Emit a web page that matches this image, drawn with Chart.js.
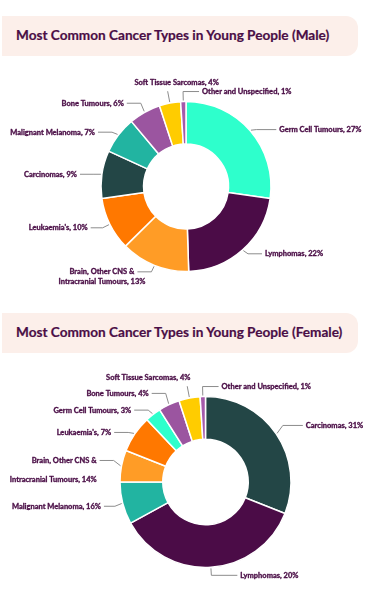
<!DOCTYPE html>
<html>
<head>
<meta charset="utf-8">
<script src="https://cdn.jsdelivr.net/npm/chart.js@4/dist/chart.umd.min.js"></script>
<style>
  html, body { margin: 0; padding: 0; background: #ffffff; }
  body { width: 376px; height: 595px; position: relative; overflow: hidden; font-family: Lato, "Open Sans", sans-serif; }
  .title {
    position: absolute; left: 2px; width: 356px; height: 40px;
    background: #fcefea; border-radius: 0 12px 12px 0;
    box-sizing: border-box; padding-left: 14px;
    font-weight: 700; font-size: 13.6px; color: #4a0e46;
    line-height: 38px; white-space: nowrap;
    -webkit-text-stroke: 0.2px #4a0e46;
  }
  canvas { position: absolute; left: 0; }
</style>
</head>
<body>
<div class="title" style="top:16px;">Most Common Cancer Types in Young People (Male)</div>
<canvas id="male" width="376" height="240" style="top:60px;width:376px;height:240px;"></canvas>
<div class="title" style="top:313px;">Most Common Cancer Types in Young People (Female)</div>
<canvas id="female" width="376" height="240" style="top:355px;width:376px;height:240px;"></canvas>
<script>
// ---- Data ----
const maleLabels = [
  'Germ Cell Tumours, 27%', 'Lymphomas, 22%', ['Brain, Other CNS &', 'Intracranial Tumours, 13%'],
  "Leukaemia's, 10%", 'Carcinomas, 9%', 'Malignant Melanoma, 7%', 'Bone Tumours, 6%',
  'Soft Tissue Sarcomas, 4%', 'Other and Unspecified, 1%'
];
const maleValues = [27, 22, 13, 10, 9, 7, 6, 4, 1];

const femaleLabels = [
  'Carcinomas, 31%', 'Lymphomas, 20%', 'Malignant Melanoma, 16%',
  ['Brain, Other CNS &', 'Intracranial Tumours, 14%'], "Leukaemia's, 7%", 'Germ Cell Tumours, 3%',
  'Bone Tumours, 4%', 'Soft Tissue Sarcomas, 4%', 'Other and Unspecified, 1%'
];
// slice sizes as drawn in the picture
const femaleValues = [31, 36, 8, 6, 7, 3, 4, 4, 1];

// ---- Colours per category ----
const catColors = {
  germ: '#2effcc', lymph: '#4b0c47', brain: '#ff9c26', leuk: '#ff7800', carc: '#234646',
  mel: '#22b4a1', bone: '#9b55a0', soft: '#ffcc00', other: '#a55aab'
};
const maleColors = ['germ','lymph','brain','leuk','carc','mel','bone','soft','other'].map(k => catColors[k]);
const femaleColors = ['carc','lymph','mel','brain','leuk','germ','bone','soft','other'].map(k => catColors[k]);

// ---- Leader-line label plugin ----
const leaderPlugin = {
  id: 'leaders',
  afterDatasetsDraw(chart, args, opts) {
    const ctx = chart.ctx;
    const meta = chart.getDatasetMeta(0);
    const labels = chart.data.labels;
    ctx.save();
    ctx.font = opts.font;
    ctx.lineJoin = 'round';
    const put = (t, x, y) => {
      ctx.strokeStyle = opts.color;
      ctx.lineWidth = 0.35;
      ctx.strokeText(t, x, y);
      ctx.fillText(t, x, y);
    };
    meta.data.forEach((arc, i) => {
      const p = arc.getProps(['x', 'y', 'startAngle', 'endAngle', 'outerRadius'], true);
      const a = (p.startAngle + p.endAngle) / 2;
      const cos = Math.cos(a), sin = Math.sin(a);
      const place = opts.placement[i];
      const nudge = (opts.nudge && opts.nudge[i]) || [0, 0];
      const lines = [].concat(labels[i]);
      const x0 = p.x + cos * (p.outerRadius + 1), y0 = p.y + sin * (p.outerRadius + 1);
      ctx.fillStyle = opts.color;
      ctx.strokeStyle = opts.lineColor;
      ctx.lineWidth = 1;
      ctx.beginPath();
      ctx.moveTo(x0, y0);
      if (place === 'top') {
        const r1 = p.outerRadius + opts.topElbow;
        const x1 = p.x + cos * r1, y1 = p.y + sin * r1;
        ctx.lineTo(x1, y1);
        ctx.stroke();
        ctx.textAlign = 'center';
        ctx.textBaseline = 'middle';
        put(lines[0], x1 + nudge[0], y1 - 9 + nudge[1]);
      } else {
        const r1 = p.outerRadius + opts.elbow;
        const x1 = p.x + cos * r1, y1 = p.y + sin * r1 + nudge[1];
        const dir = place === 'right' ? 1 : -1;
        const x2 = x1 + dir * (opts.arm + nudge[0]);
        ctx.lineTo(x1, y1);
        ctx.lineTo(x2, y1);
        ctx.stroke();
        ctx.textBaseline = 'middle';
        const tx = x2 + dir * 3;
        if (lines.length === 1) {
          ctx.textAlign = dir > 0 ? 'left' : 'right';
          put(lines[0], tx, y1);
        } else if (opts.multiAlign === 'center') {
          const w1 = ctx.measureText(lines[0]).width;
          const cx = dir > 0 ? tx + w1 / 2 : tx - w1 / 2;
          ctx.textAlign = 'center';
          lines.forEach((t, k) => put(t, cx, y1 + k * opts.lineGap));
        } else {
          ctx.textAlign = dir > 0 ? 'left' : 'right';
          lines.forEach((t, k) => put(t, tx, y1 + k * opts.lineGap));
        }
      }
    });
    ctx.restore();
  }
};

function makeDonut(id, labels, values, colors, padding, leaders) {
  return new Chart(document.getElementById(id), {
    type: 'doughnut',
    data: {
      labels: labels,
      datasets: [{
        data: values,
        backgroundColor: colors,
        borderColor: '#ffffff',
        borderWidth: 1.5,
        radius: leaders.radius,
        cutout: '50%'
      }]
    },
    options: {
      responsive: false,
      animation: false,
      events: [],
      devicePixelRatio: 1,
      layout: { padding: padding },
      plugins: {
        legend: { display: false },
        tooltip: { enabled: false },
        leaders: leaders
      }
    },
    plugins: [leaderPlugin]
  });
}

makeDonut('male', maleLabels, maleValues, maleColors,
  { left: 0, right: 4, top: 13, bottom: 0 },
  {
    radius: 85,
    font: '700 7.5px Lato, sans-serif', color: '#4a0e46', lineColor: '#8c8c8c',
    elbow: 8, topElbow: 12, arm: 14, multiAlign: 'center', lineGap: 10,
    placement: ['right', 'right', 'left', 'left', 'left', 'left', 'left', 'top', 'right'],
    nudge: [[6, 4], [0, -2], [0, -1], [-2, 0], [0, 1], [0, 2], [0, -2], [9, 0], [2, -2]]
  });

makeDonut('female', femaleLabels, femaleValues, femaleColors,
  { left: 35, right: 0, top: 14, bottom: 0 },
  {
    radius: 85.5,
    font: '700 7.5px Lato, sans-serif', color: '#4a0e46', lineColor: '#8c8c8c',
    elbow: 8, topElbow: 12, arm: 14, multiAlign: 'right', lineGap: 19,
    placement: ['right', 'right', 'left', 'left', 'left', 'left', 'left', 'top', 'right'],
    nudge: [[6, -4], [12, 0], [-3, 1], [0, -4], [0, 3], [0, 2], [0, -4], [-39, 0], [2, -2]]
  });
</script>
</body>
</html>
